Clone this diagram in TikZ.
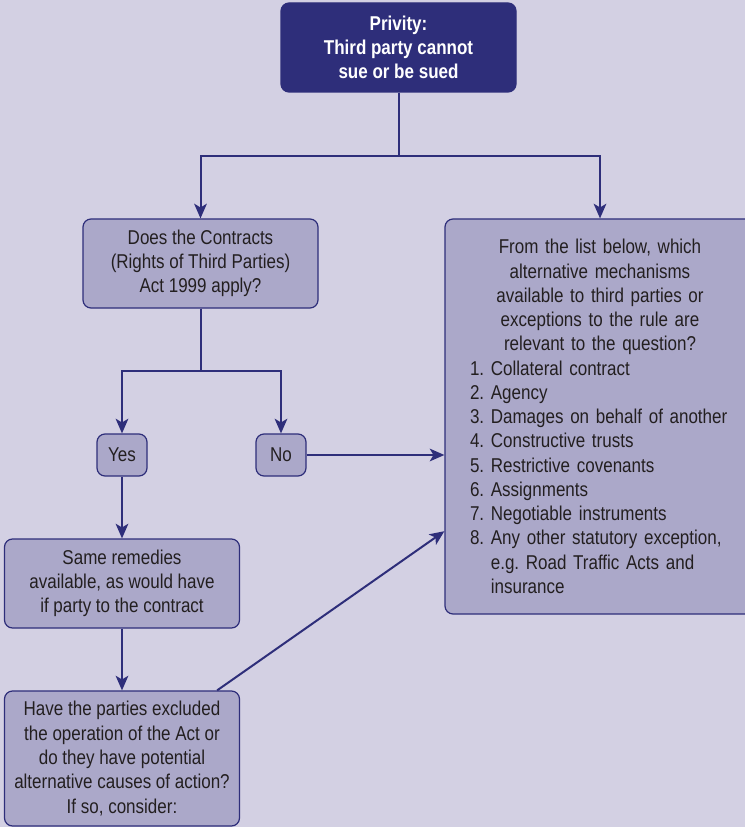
\documentclass[tikz,border=0pt]{standalone}
\usepackage{fontspec}
\setmainfont[FakeStretch=0.85]{Liberation Sans}
\usepackage{tikz}
\usetikzlibrary{arrows.meta}
\definecolor{bgcol}{RGB}{211,208,227}
\definecolor{boxcol}{RGB}{171,168,201}
\definecolor{navy}{RGB}{46,46,122}
\definecolor{inkcol}{RGB}{35,31,32}

\begin{document}
\frenchspacing
\begin{tikzpicture}[x=0.75pt,y=-0.75pt,font=\fontsize{15}{18.2}\selectfont,
  box/.style={draw=navy,line width=0.9pt,rounded corners=6pt,fill=boxcol,text=inkcol,align=center,minimum width=176.25pt,minimum height=66.75pt,inner sep=2pt},
  small/.style={box,minimum width=37.5pt,minimum height=31.5pt},
  arr/.style={-{Stealth[length=11pt,width=9.5pt,inset=2.8pt]},draw=navy,line width=1.5pt}]
\fill[bgcol] (0,0) rectangle (745,827);
\useasboundingbox (0,0) rectangle (745,827);
\clip (0,0) rectangle (745,827);
\node[box,fill=navy,text=white,font=\fontsize{15}{18.2}\selectfont\bfseries] (privity) at (398.5,47.5) {Privity:\\Third party cannot\\sue or be sued};
\node[box] (act) at (200.5,263.5) {Does the Contracts\\(Rights of Third Parties)\\Act 1999 apply?};
\node[box,minimum width=232.5pt,minimum height=296.25pt,text width=195pt,align=left] (list) at (600,416.5) {{\centering From the list below, which\\alternative mechanisms\\available to third parties or\\exceptions to the rule are\\relevant to the question?\par}
1. Collateral contract\\
2. Agency\\
3. Damages on behalf of another\\
4. Constructive trusts\\
5. Restrictive covenants\\
6. Assignments\\
7. Negotiable instruments\\
8. Any other statutory exception,\\
\phantom{8. }e.g. Road Traffic Acts and\\
\phantom{8. }insurance};
\node[small] (yes) at (122,455) {Yes};
\node[small] (no) at (281,455) {No};
\node[box] (same) at (122,583.5) {Same remedies\\available, as would have\\if party to the contract};
\node[box,minimum height=101.25pt] (have) at (122,758.5) {Have the parties excluded\\the operation of the Act or\\do they have potential\\alternative causes of action?\\If so, consider:};
\draw[arr] (privity.south) -- ++(0,63) -| (act.north);
\draw[arr] (privity.south) -- ++(0,63) -| (list.north);
\draw[arr] (act.south) -- ++(0,62) -| (yes.north);
\draw[arr] (act.south) -- ++(0,62) -| (no.north);
\draw[arr] (no.east) -- (no.east -| list.west);
\draw[arr] (yes.south) -- (same.north);
\draw[arr] (same.south) -- (have.north);
\draw[arr] ([xshift=-17.25pt]have.north east) -- ([yshift=-86pt]list.west);
\end{tikzpicture}
\end{document}
